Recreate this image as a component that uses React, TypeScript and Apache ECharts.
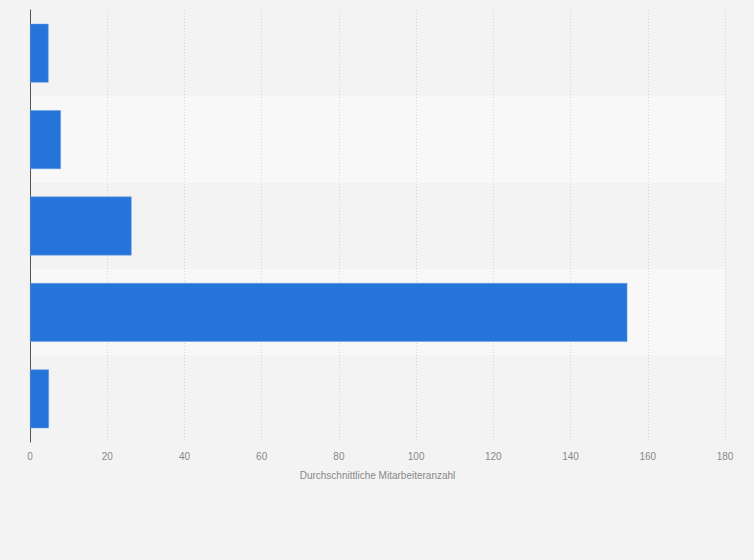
import React, { useEffect, useRef } from "react";
import * as echarts from "echarts";

const categories = ["A", "B", "C", "D", "E"];
const values = [4.8, 8.0, 26.3, 154.7, 4.9];
const xTicks = { min: 0, max: 180, interval: 20 };
const axisName = "Durchschnittliche Mitarbeiteranzahl";

export default function App() {
  const ref = useRef<HTMLDivElement>(null);
  useEffect(() => {
    document.body.style.margin = "0";
    document.body.style.background = "#f3f3f3";
    const chart = echarts.init(ref.current!, null, { renderer: "svg" });
    chart.setOption({
      animation: false,
      backgroundColor: "#f3f3f3",
      grid: { left: 30, right: 29, top: 10, bottom: 118, containLabel: false },
      xAxis: {
        type: "value",
        min: xTicks.min,
        max: xTicks.max,
        interval: xTicks.interval,
        name: axisName,
        nameLocation: "middle",
        nameGap: 28,
        nameTextStyle: { color: "#888", fontSize: 10, fontFamily: "Liberation Sans, Arial, sans-serif" },
        axisLine: { show: false },
        axisTick: { show: false },
        axisLabel: { color: "#888", fontSize: 10, margin: 9, fontFamily: "Liberation Sans, Arial, sans-serif" },
        splitLine: { show: true, lineStyle: { color: "#d6d6d6", type: [1, 2], width: 1 } },
      },
      yAxis: {
        type: "category",
        data: categories,
        inverse: true,
        axisLine: { show: true, lineStyle: { color: "#555", width: 1 } },
        axisTick: { show: false },
        axisLabel: { show: false },
        splitArea: { show: true, areaStyle: { color: ["rgba(0,0,0,0)", "#f8f8f8"] } },
      },
      series: [
        {
          type: "bar",
          data: values,
          barWidth: "68%",
          itemStyle: { color: "#2574d9", borderColor: "#6b9fe6", borderWidth: 0.5 },
        },
      ],
    });
    return () => chart.dispose();
  }, []);
  return <div ref={ref} style={{ width: 754, height: 560 }} />;
}
